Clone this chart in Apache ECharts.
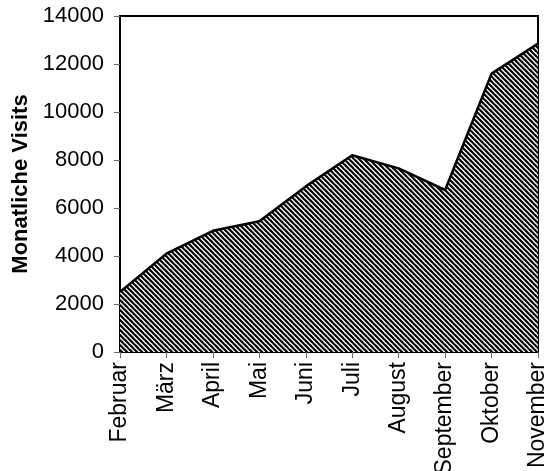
<!DOCTYPE html>
<html>
<head>
<meta charset="utf-8">
<script src="https://cdn.jsdelivr.net/npm/echarts@6/dist/echarts.min.js"></script>
<style>
  html, body { margin: 0; padding: 0; background: #fff; }
  #chart { width: 547px; height: 471px; }
</style>
</head>
<body>
<div id="chart"></div>
<script>
// Monthly visits, February to November
const months = ['Februar', 'März', 'April', 'Mai', 'Juni', 'Juli', 'August', 'September', 'Oktober', 'November'];
const visits = [2500, 4100, 5050, 5450, 6900, 8200, 7650, 6750, 11600, 12850];
const yTicks = [0, 2000, 4000, 6000, 8000, 10000, 12000, 14000];

// Diagonal hatch tile for the area fill
function hatchTile(size, width) {
  const c = document.createElement('canvas');
  c.width = size; c.height = size;
  const ctx = c.getContext('2d');
  ctx.fillStyle = '#fff';
  ctx.fillRect(0, 0, size, size);
  ctx.strokeStyle = '#000';
  ctx.lineWidth = width;
  for (let k = -1; k <= 1; k++) {
    ctx.beginPath();
    ctx.moveTo(k * size - 1, -1);
    ctx.lineTo(k * size + size + 1, size + 1);
    ctx.stroke();
  }
  return c;
}

const font = '"Liberation Sans", Arial, sans-serif';
const chart = echarts.init(document.getElementById('chart'), null, { renderer: 'canvas' });

chart.setOption({
  animation: false,
  backgroundColor: '#fff',
  grid: {
    left: 120, top: 16, right: 9, bottom: 119,
    containLabel: false,
    outerBoundsMode: 'none',
    show: true, borderColor: '#000', borderWidth: 2, backgroundColor: 'transparent'
  },
  xAxis: {
    type: 'category',
    data: months,
    boundaryGap: false,
    axisLine: { lineStyle: { color: '#000', width: 2 } },
    axisTick: { show: true, length: 6, lineStyle: { color: '#666', width: 1 } },
    axisLabel: {
      rotate: 90, margin: 10, fontSize: 23, color: '#000', fontFamily: font,
      interval: 0
    },
    splitLine: { show: false }
  },
  yAxis: {
    type: 'value',
    min: yTicks[0],
    max: yTicks[yTicks.length - 1],
    interval: 2000,
    name: 'Monatliche Visits',
    nameLocation: 'middle',
    nameRotate: 90,
    nameGap: 86,
    nameTextStyle: { fontSize: 22, fontWeight: 'bold', color: '#000', fontFamily: font },
    axisLine: { show: true, lineStyle: { color: '#000', width: 2 } },
    axisTick: { show: true, length: 6, lineStyle: { color: '#666', width: 1 } },
    axisLabel: {
      margin: 16, fontSize: 22, color: '#000', fontFamily: font,
      formatter: v => String(v)
    },
    splitLine: { show: false }
  },
  series: [{
    type: 'line',
    data: visits,
    showSymbol: false,
    lineStyle: { color: '#000', width: 2.5 },
    areaStyle: {
      opacity: 1,
      color: { image: hatchTile(5, 2.2), repeat: 'repeat' }
    },
    z: 1
  }]
});
</script>
</body>
</html>
